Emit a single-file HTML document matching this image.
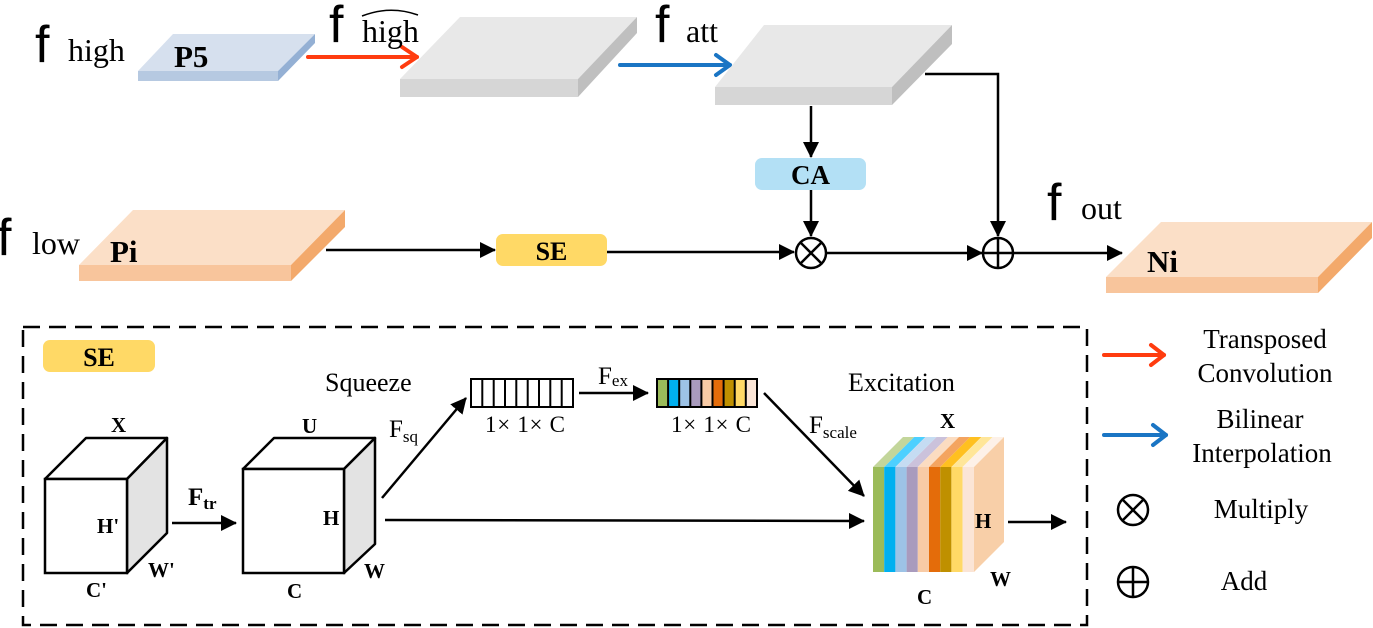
<!DOCTYPE html>
<html><head><meta charset="utf-8"><style>
html,body{margin:0;padding:0;background:#fff;}
svg{display:block;}
.s{font-family:"Liberation Serif",serif;}
.a{font-family:"Liberation Sans",sans-serif;}
</style></head><body>
<svg width="1373" height="628" viewBox="0 0 1373 628" xmlns="http://www.w3.org/2000/svg">
<defs>
<marker id="ahb" markerWidth="16" markerHeight="16" refX="15" refY="8" orient="auto" markerUnits="userSpaceOnUse" viewBox="0 0 16 16"><path d="M0,0 L16,8 L0,16 z" fill="#000"/></marker>
</defs>

<!-- P5 slab -->
<polygon points="138,71 173,34 315,34 278,71" fill="#d6e0ee"/>
<rect x="138" y="71" width="140" height="10" fill="#b6c9e1"/>
<polygon points="278,71 315,34 315,43 278,81" fill="#94b0d4"/>
<text x="174" y="67" class="s" font-weight="bold" font-size="31">P5</text>
<text x="35" y="62" class="a" font-size="52">f</text>
<text x="68" y="61" class="s" font-size="32">high</text>

<!-- red arrow -->
<line x1="308" y1="57" x2="417" y2="57" stroke="#ff3c0f" stroke-width="4" stroke-linecap="round"/>
<polyline points="402,47 417,57 402,67" fill="none" stroke="#ff3c0f" stroke-width="4" stroke-linecap="round" stroke-linejoin="round"/>

<!-- f high hat -->
<text x="329" y="42" class="a" font-size="52">f</text>
<text x="362" y="42" class="s" font-size="32">high</text>
<path d="M362,16 Q390,5 418,15" fill="none" stroke="#000" stroke-width="1.5"/>

<!-- gray slab 1 -->
<polygon points="400,79 460,17 637,17 578,79" fill="#e8e8e8"/>
<rect x="400" y="79" width="178" height="18" fill="#d6d6d6"/>
<polygon points="578,79 637,17 637,33 578,97" fill="#bfbfbf"/>

<text x="655" y="42" class="a" font-size="52">f</text>
<text x="686" y="42" class="s" font-size="32">att</text>
<!-- blue arrow -->
<line x1="620" y1="65" x2="730" y2="65" stroke="#1a75c4" stroke-width="4" stroke-linecap="round"/>
<polyline points="716,55 730,65 716,75" fill="none" stroke="#1a75c4" stroke-width="4" stroke-linecap="round" stroke-linejoin="round"/>

<!-- gray slab 2 -->
<polygon points="715,87 764,25 952,25 892,87" fill="#e8e8e8"/>
<rect x="715" y="87" width="177" height="18" fill="#d6d6d6"/>
<polygon points="892,87 952,25 952,44 892,105" fill="#bfbfbf"/>

<!-- connectors top -->
<polyline points="925,74 998,74 998,236" fill="none" stroke="#000" stroke-width="2.5" marker-end="url(#ahb)"/>
<line x1="811" y1="106" x2="811" y2="157" stroke="#000" stroke-width="2.5" marker-end="url(#ahb)"/>
<rect x="755" y="158" width="111" height="32" rx="7" fill="#b3e0f5"/>
<text x="810.5" y="184" text-anchor="middle" class="s" font-weight="bold" font-size="27">CA</text>
<line x1="811" y1="190" x2="811" y2="236" stroke="#000" stroke-width="2.5" marker-end="url(#ahb)"/>

<!-- Pi slab -->
<polygon points="79,265 133,210 345,210 291,265" fill="#fbdfc7"/>
<rect x="79" y="265" width="212" height="16" fill="#f8c59c"/>
<polygon points="291,265 345,210 345,227 291,281" fill="#f3a96b"/>
<text x="110" y="262" class="s" font-weight="bold" font-size="31">Pi</text>
<text x="-3" y="255" class="a" font-size="52">f</text>
<text x="32" y="254" class="s" font-size="32">low</text>

<line x1="326" y1="250" x2="495" y2="250" stroke="#000" stroke-width="2.5" marker-end="url(#ahb)"/>
<rect x="496" y="234" width="111" height="32" rx="7" fill="#ffd966"/>
<text x="551.5" y="260" text-anchor="middle" class="s" font-weight="bold" font-size="26">SE</text>
<line x1="607" y1="252" x2="794" y2="252" stroke="#000" stroke-width="2.5" marker-end="url(#ahb)"/>

<!-- multiply circle -->
<circle cx="811" cy="253" r="15" fill="#fff" stroke="#000" stroke-width="2.5"/>
<line x1="801" y1="243" x2="821" y2="263" stroke="#000" stroke-width="2.5"/>
<line x1="821" y1="243" x2="801" y2="263" stroke="#000" stroke-width="2.5"/>
<line x1="827" y1="253" x2="982" y2="253" stroke="#000" stroke-width="2.5" marker-end="url(#ahb)"/>
<!-- add circle -->
<circle cx="998" cy="253" r="15" fill="#fff" stroke="#000" stroke-width="2.5"/>
<line x1="983" y1="253" x2="1013" y2="253" stroke="#000" stroke-width="2.5"/>
<line x1="998" y1="238" x2="998" y2="268" stroke="#000" stroke-width="2.5"/>
<line x1="1014" y1="253" x2="1122" y2="253" stroke="#000" stroke-width="2.5" marker-end="url(#ahb)"/>

<text x="1047" y="220" class="a" font-size="52">f</text>
<text x="1081" y="219" class="s" font-size="32">out</text>

<!-- Ni slab -->
<polygon points="1106,277 1161,222 1372,222 1318,277" fill="#fbdfc7"/>
<rect x="1106" y="277" width="212" height="16" fill="#f8c59c"/>
<polygon points="1318,277 1372,222 1372,238 1318,293" fill="#f3a96b"/>
<text x="1147" y="272" class="s" font-weight="bold" font-size="31">Ni</text>

<!-- dashed SE box -->
<rect x="23" y="327" width="1064" height="298" fill="none" stroke="#000" stroke-width="2.5" stroke-dasharray="17,9"/>
<rect x="43" y="340" width="112" height="32" rx="7" fill="#ffd966"/>
<text x="99" y="366" text-anchor="middle" class="s" font-weight="bold" font-size="26">SE</text>

<!-- cube X -->
<polygon points="45,479 86,438 167,438 127,479" fill="#fff" stroke="#000" stroke-width="2.5" stroke-linejoin="round"/>
<polygon points="127,479 167,438 167,533 127,573" fill="#e3e3e3" stroke="#000" stroke-width="2.5" stroke-linejoin="round"/>
<rect x="45" y="479" width="82" height="94" fill="#fff" stroke="#000" stroke-width="2.5"/>
<g class="s" font-weight="bold" font-size="21">
<text x="111" y="432">X</text>
<text x="97" y="533">H'</text>
<text x="148" y="577">W'</text>
<text x="86" y="597">C'</text>
</g>
<line x1="172" y1="523" x2="236" y2="523" stroke="#000" stroke-width="2.5" marker-end="url(#ahb)"/>
<text x="188" y="505" class="s" font-weight="bold" font-size="25">F<tspan font-size="17" dy="4">tr</tspan></text>

<!-- cube U -->
<polygon points="243,469 274,438 375,438 344,469" fill="#fff" stroke="#000" stroke-width="2.5" stroke-linejoin="round"/>
<polygon points="344,469 375,438 375,544 344,573" fill="#e3e3e3" stroke="#000" stroke-width="2.5" stroke-linejoin="round"/>
<rect x="243" y="469" width="101" height="104" fill="#fff" stroke="#000" stroke-width="2.5"/>
<g class="s" font-weight="bold" font-size="21">
<text x="302" y="433">U</text>
<text x="323" y="525">H</text>
<text x="364" y="578">W</text>
<text x="287" y="598">C</text>
</g>
<text x="325" y="391" class="s" font-size="26">Squeeze</text>
<line x1="382" y1="498" x2="466" y2="398" stroke="#000" stroke-width="2.5" marker-end="url(#ahb)"/>
<text x="389" y="437" class="s" font-size="25">F<tspan font-size="17" dy="5">sq</tspan></text>
<line x1="385" y1="520" x2="864" y2="521" stroke="#000" stroke-width="2.5" marker-end="url(#ahb)"/>

<!-- vector 1 -->
<g stroke="#000" stroke-width="2" fill="#fff">
<rect x="471" y="379" width="102" height="28"/>
<line x1="482.3" y1="379" x2="482.3" y2="407"/><line x1="493.7" y1="379" x2="493.7" y2="407"/><line x1="505" y1="379" x2="505" y2="407"/><line x1="516.3" y1="379" x2="516.3" y2="407"/><line x1="527.7" y1="379" x2="527.7" y2="407"/><line x1="539" y1="379" x2="539" y2="407"/><line x1="550.3" y1="379" x2="550.3" y2="407"/><line x1="561.7" y1="379" x2="561.7" y2="407"/>
</g>
<text x="485" y="432" class="s" font-size="23" textLength="80">1× 1× C</text>
<line x1="579" y1="393" x2="648" y2="393" stroke="#000" stroke-width="2.5" marker-end="url(#ahb)"/>
<text x="598" y="384" class="s" font-size="25">F<tspan font-size="17" dy="2">ex</tspan></text>

<!-- vector 2 -->
<g>
<rect x="657" y="379" width="11.1" height="28" fill="#9bbb59"/>
<rect x="668.1" y="379" width="11.1" height="28" fill="#00b0f0"/>
<rect x="679.2" y="379" width="11.1" height="28" fill="#9dc3e6"/>
<rect x="690.3" y="379" width="11.1" height="28" fill="#a99bbd"/>
<rect x="701.4" y="379" width="11.1" height="28" fill="#f8cba6"/>
<rect x="712.5" y="379" width="11.1" height="28" fill="#e46c0a"/>
<rect x="723.6" y="379" width="11.1" height="28" fill="#bf9000"/>
<rect x="734.7" y="379" width="11.1" height="28" fill="#ffd966"/>
<rect x="745.8" y="379" width="11.2" height="28" fill="#fbe5d6"/>
</g>
<g stroke="#000" stroke-width="2" fill="none">
<rect x="657" y="379" width="100" height="28"/>
<line x1="668.1" y1="379" x2="668.1" y2="407"/><line x1="679.2" y1="379" x2="679.2" y2="407"/><line x1="690.3" y1="379" x2="690.3" y2="407"/><line x1="701.4" y1="379" x2="701.4" y2="407"/><line x1="712.5" y1="379" x2="712.5" y2="407"/><line x1="723.6" y1="379" x2="723.6" y2="407"/><line x1="734.7" y1="379" x2="734.7" y2="407"/><line x1="745.8" y1="379" x2="745.8" y2="407"/>
</g>
<text x="671" y="432" class="s" font-size="23" textLength="80">1× 1× C</text>
<line x1="764" y1="393" x2="864" y2="496" stroke="#000" stroke-width="2.5" marker-end="url(#ahb)"/>
<text x="809" y="433" class="s" font-size="25">F<tspan font-size="17" dy="5">scale</tspan></text>
<text x="848" y="391" class="s" font-size="26">Excitation</text>

<!-- colored cube -->
<g>
<polygon points="873,467 903,437 914.2,437 884.2,467" fill="#c3d69b"/>
<polygon points="884.2,467 914.2,437 925.4,437 895.4,467" fill="#4dd0ff"/>
<polygon points="895.4,467 925.4,437 936.6,437 906.6,467" fill="#c5dcf2"/>
<polygon points="906.6,467 936.6,437 947.8,437 917.8,467" fill="#cbc2db"/>
<polygon points="917.8,467 947.8,437 959,437 929,467" fill="#fbdcc1"/>
<polygon points="929,467 959,437 970.2,437 940.2,467" fill="#f4a460"/>
<polygon points="940.2,467 970.2,437 981.4,437 951.4,467" fill="#ffc020"/>
<polygon points="951.4,467 981.4,437 992.6,437 962.6,467" fill="#ffe699"/>
<polygon points="962.6,467 992.6,437 1004,437 974,467" fill="#fdf1e8"/>
<rect x="873" y="467" width="11.2" height="105" fill="#9bbb59"/>
<rect x="884.2" y="467" width="11.2" height="105" fill="#00b0f0"/>
<rect x="895.4" y="467" width="11.2" height="105" fill="#9dc3e6"/>
<rect x="906.6" y="467" width="11.2" height="105" fill="#a99bbd"/>
<rect x="917.8" y="467" width="11.2" height="105" fill="#f8cba6"/>
<rect x="929" y="467" width="11.2" height="105" fill="#e46c0a"/>
<rect x="940.2" y="467" width="11.2" height="105" fill="#bf9000"/>
<rect x="951.4" y="467" width="11.2" height="105" fill="#ffd966"/>
<rect x="962.6" y="467" width="11.4" height="105" fill="#fbe5d6"/>
<polygon points="974,467 1004,437 1004,542 974,572" fill="#f8cfa8"/>
</g>
<g class="s" font-weight="bold" font-size="21">
<text x="940" y="428">X</text>
<text x="975" y="528">H</text>
<text x="990" y="586">W</text>
<text x="917" y="604">C</text>
</g>
<line x1="1008" y1="522" x2="1066" y2="522" stroke="#000" stroke-width="2.5" marker-end="url(#ahb)"/>

<!-- legend -->
<line x1="1104" y1="355" x2="1164" y2="355" stroke="#ff3c0f" stroke-width="4" stroke-linecap="round"/>
<polyline points="1151,345 1164,355 1151,365" fill="none" stroke="#ff3c0f" stroke-width="4" stroke-linecap="round" stroke-linejoin="round"/>
<line x1="1104" y1="435" x2="1166" y2="435" stroke="#1a75c4" stroke-width="4" stroke-linecap="round"/>
<polyline points="1153,425 1166,435 1153,445" fill="none" stroke="#1a75c4" stroke-width="4" stroke-linecap="round" stroke-linejoin="round"/>
<g class="s" font-size="27" text-anchor="middle">
<text x="1265" y="348">Transposed</text>
<text x="1265" y="382">Convolution</text>
<text x="1260" y="428">Bilinear</text>
<text x="1262" y="462">Interpolation</text>
<text x="1261" y="518">Multiply</text>
<text x="1244" y="590">Add</text>
</g>
<circle cx="1133" cy="510" r="15" fill="#fff" stroke="#000" stroke-width="2.5"/>
<line x1="1123" y1="500" x2="1143" y2="520" stroke="#000" stroke-width="2.5"/>
<line x1="1143" y1="500" x2="1123" y2="520" stroke="#000" stroke-width="2.5"/>
<circle cx="1133" cy="582" r="15" fill="#fff" stroke="#000" stroke-width="2.5"/>
<line x1="1118" y1="582" x2="1148" y2="582" stroke="#000" stroke-width="2.5"/>
<line x1="1133" y1="567" x2="1133" y2="597" stroke="#000" stroke-width="2.5"/>
</svg>
</body></html>
